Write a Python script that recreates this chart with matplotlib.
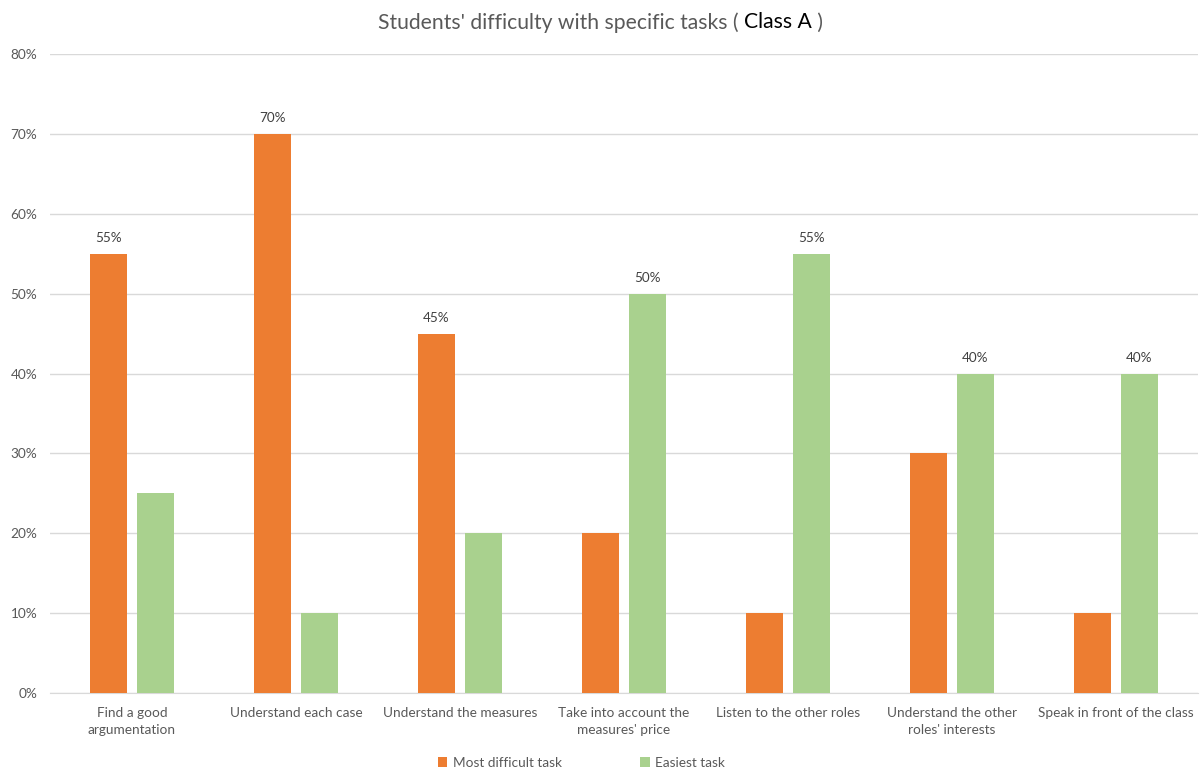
import matplotlib.pyplot as plt
import numpy as np
from matplotlib.patches import Patch

plt.rcParams['font.family'] = ['Lato', 'DejaVu Sans']

TASKS = [
    "Find a good\nargumentation",
    "Understand each case",
    "Understand the measures",
    "Take into account the\nmeasures' price",
    "Listen to the other roles",
    "Understand the other\nroles' interests",
    "Speak in front of the class",
]
MOST_DIFFICULT = [55, 70, 45, 20, 10, 30, 10]
EASIEST = [25, 10, 20, 50, 55, 40, 40]
Y_TICKS = [0, 10, 20, 30, 40, 50, 60, 70, 80]

ORANGE = "#ED7D31"
GREEN = "#A9D18E"
TEXT = "#595959"
GRID = "#D9D9D9"

fig = plt.figure(figsize=(12.01, 7.73), dpi=100)
ax = fig.add_axes([0.0416, 0.1035, 0.9559, 0.8265])

x = np.arange(len(TASKS))
w = 0.225
off = 0.143
ax.bar(x - off, MOST_DIFFICULT, w, color=ORANGE, zorder=3)
ax.bar(x + off, EASIEST, w, color=GREEN, zorder=3)

# label only the taller bar of each pair
for i, (a, b) in enumerate(zip(MOST_DIFFICULT, EASIEST)):
    if a >= b:
        xi, v = x[i] - off, a
    else:
        xi, v = x[i] + off, b
    ax.annotate(f"{v}%", (xi, v), xytext=(0, 7), textcoords="offset points",
                ha="center", va="bottom", fontsize=9.7, color="#404040")

ax.set_xlim(-0.5, len(TASKS) - 0.5)
ax.set_ylim(0, 80)
ax.set_yticks(Y_TICKS)
ax.set_yticklabels([f"{t}%" for t in Y_TICKS])
ax.set_xticks(x)
ax.set_xticklabels(TASKS, linespacing=1.55)
ax.tick_params(axis="both", length=0, labelsize=9.8, labelcolor=TEXT)
ax.tick_params(axis="x", pad=10)
ax.tick_params(axis="y", pad=9)
ax.yaxis.grid(True, color=GRID, linewidth=1, zorder=0)
ax.set_axisbelow(True)
for s in ["top", "right", "left"]:
    ax.spines[s].set_visible(False)
ax.spines["bottom"].set_color(GRID)

# title in pieces: the class name is set in black
renderer = fig.canvas.get_renderer()
parts = [("Students' difficulty with specific tasks ( ", TEXT),
         ("Class A", "black"), (" )", TEXT)]
texts = []
for s, c in parts:
    texts.append(fig.text(0, 0.971, s, fontsize=15.2, color=c, ha="left", va="center"))
widths = [t.get_window_extent(renderer).width for t in texts]
total = sum(widths)
xpos = (fig.bbox.width - total) / 2
for t, wd in zip(texts, widths):
    t.set_x(xpos / fig.bbox.width)
    xpos += wd

handles = [Patch(facecolor=ORANGE, label="Most difficult task"),
           Patch(facecolor=GREEN, label="Easiest task")]
fig.legend(handles=handles, loc="center", bbox_to_anchor=(0.484, 0.013), ncol=2,
           frameon=False, fontsize=9.8, labelcolor=TEXT, handlelength=0.7,
           handleheight=0.7, handletextpad=0.4, columnspacing=5.75)

fig.savefig("out.png", dpi=100, facecolor="white")
